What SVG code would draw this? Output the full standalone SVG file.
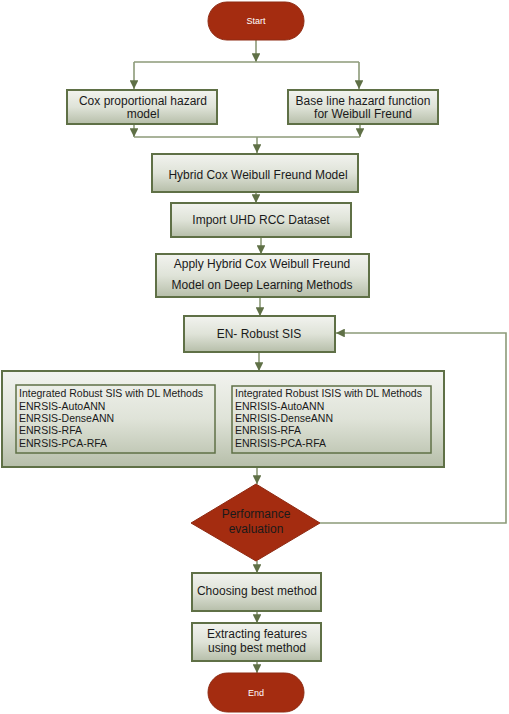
<svg xmlns="http://www.w3.org/2000/svg" width="509" height="714" viewBox="0 0 509 714">
<defs>
<linearGradient id="g" x1="0" y1="0" x2="0" y2="1">
<stop offset="0" stop-color="#f2f3ef"/>
<stop offset="0.5" stop-color="#dfe3d8"/>
<stop offset="1" stop-color="#b6bea9"/>
</linearGradient>
<marker id="ah" viewBox="0 0 10 10" refX="10" refY="5" markerWidth="5.5" markerHeight="5.5" orient="auto" markerUnits="strokeWidth">
<path d="M0,0 L10,5 L0,10 z" fill="#5f7046"/>
</marker>
</defs>
<style>
.box{fill:url(#g);stroke:#5f7046;stroke-width:2}
.inner{fill:none;stroke:#5f7046;stroke-width:1.5}
.red{fill:#a42c10;stroke:#8e2a12;stroke-width:1}
.t{font-family:"Liberation Sans",Arial,sans-serif;font-size:12px;fill:#1a1a1a;text-anchor:middle}
.l{font-family:"Liberation Sans",Arial,sans-serif;font-size:10.5px;fill:#1a1a1a}
.w{font-family:"Liberation Sans",Arial,sans-serif;font-size:9px;fill:#ffffff;text-anchor:middle}
.c{fill:none;stroke:#8c9a78;stroke-width:1.6}
.a{fill:none;stroke:#8c9a78;stroke-width:1.6;marker-end:url(#ah)}
</style>
<g id="connectors">
<line class="a" x1="256" y1="40" x2="256" y2="62"/>
<polyline class="c" points="134,62 359,62"/>
<line class="a" x1="134" y1="62" x2="134" y2="89"/>
<line class="a" x1="359" y1="62" x2="359" y2="89"/>
<line class="a" x1="134" y1="124" x2="134" y2="137"/>
<line class="a" x1="360" y1="124" x2="360" y2="137"/>
<polyline class="c" points="134,137 360,137"/>
<line class="a" x1="257" y1="137" x2="257" y2="153"/>
<line class="a" x1="256" y1="192" x2="256" y2="203"/>
<line class="a" x1="261" y1="237" x2="261" y2="254"/>
<line class="a" x1="260" y1="297" x2="260" y2="316"/>
<line class="a" x1="259" y1="352" x2="259" y2="371"/>
<line class="a" x1="257" y1="467" x2="257" y2="484"/>
<line class="a" x1="257" y1="561" x2="257" y2="573"/>
<line class="a" x1="257" y1="611" x2="257" y2="623"/>
<line class="a" x1="257" y1="661" x2="257" y2="673"/>
<polyline class="a" points="320,523 506,523 506,333 336,333"/>
</g>
<g id="start">
<rect class="red" x="208" y="2" width="96" height="38" rx="19"/>
<text class="w" x="256" y="24">Start</text>
</g>
<g id="cox">
<rect class="box" x="67" y="90" width="150" height="34"/>
<text class="t" x="143" y="105">Cox proportional hazard</text>
<text class="t" x="143" y="118">model</text>
</g>
<g id="baseline">
<rect class="box" x="288" y="90" width="150" height="34"/>
<text class="t" x="363" y="105">Base line hazard function</text>
<text class="t" x="363" y="118">for Weibull Freund</text>
</g>
<g id="hybrid">
<rect class="box" x="152" y="154" width="206" height="38"/>
<text class="t" x="258" y="179">Hybrid Cox Weibull Freund Model</text>
</g>
<g id="import">
<rect class="box" x="171" y="203" width="180" height="34"/>
<text class="t" x="261" y="224">Import UHD RCC Dataset</text>
</g>
<g id="apply">
<rect class="box" x="156" y="254" width="213" height="43"/>
<text class="t" x="262" y="268">Apply Hybrid Cox Weibull Freund</text>
<text class="t" x="262" y="289">Model on Deep Learning Methods</text>
</g>
<g id="enrobust">
<rect class="box" x="184" y="316" width="151" height="36"/>
<text class="t" x="259" y="338">EN- Robust SIS</text>
</g>
<g id="integrated">
<rect class="box" x="2" y="371" width="442" height="96"/>
<rect class="inner" x="16" y="385" width="199" height="68"/>
<text class="l" x="19" y="397">Integrated Robust SIS with DL Methods</text>
<text class="l" x="19" y="410">ENRSIS-AutoANN</text>
<text class="l" x="19" y="422">ENRSIS-DenseANN</text>
<text class="l" x="19" y="434">ENRSIS-RFA</text>
<text class="l" x="19" y="447">ENRSIS-PCA-RFA</text>
<rect class="inner" x="232" y="386" width="199" height="67"/>
<text class="l" x="235" y="397">Integrated Robust ISIS with DL Methods</text>
<text class="l" x="235" y="410">ENRISIS-AutoANN</text>
<text class="l" x="235" y="422">ENRISIS-DenseANN</text>
<text class="l" x="235" y="434">ENRISIS-RFA</text>
<text class="l" x="235" y="447">ENRISIS-PCA-RFA</text>
</g>
<g id="performance">
<polygon class="red" points="256,484 320,523 256,561 191,523"/>
<text class="t" x="256" y="518">Performance</text>
<text class="t" x="256" y="533">evaluation</text>
</g>
<g id="choosing">
<rect class="box" x="192" y="573" width="129" height="38"/>
<text class="t" x="257" y="595">Choosing best method</text>
</g>
<g id="extracting">
<rect class="box" x="192" y="623" width="129" height="38"/>
<text class="t" x="257" y="638">Extracting features</text>
<text class="t" x="257" y="652">using best method</text>
</g>
<g id="end">
<rect class="red" x="208" y="673" width="96" height="39" rx="19.5"/>
<text class="w" x="256" y="696">End</text>
</g>
</svg>
